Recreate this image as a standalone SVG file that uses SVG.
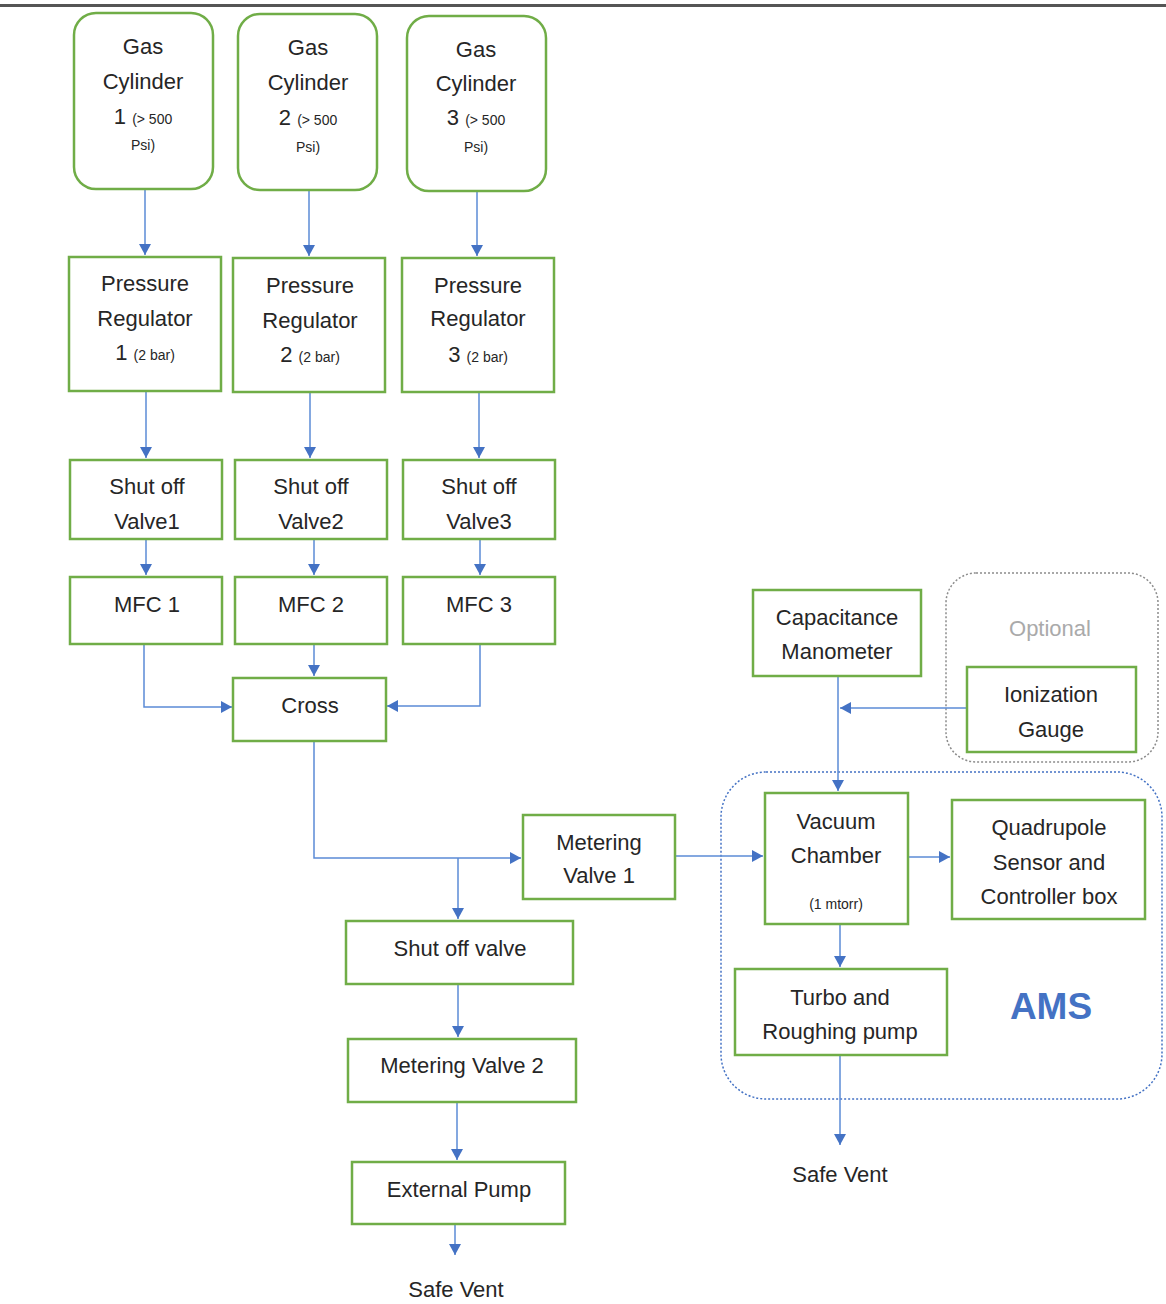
<svg xmlns="http://www.w3.org/2000/svg" width="1166" height="1304" viewBox="0 0 1166 1304">
  <defs>
    <marker id="arrow" markerUnits="userSpaceOnUse" markerWidth="12" markerHeight="12" refX="11" refY="6" orient="auto">
      <path d="M0,0 L11,6 L0,12 z" fill="#4472C4"/>
    </marker>
    <style>
      .box { fill: #ffffff; stroke: #70AD47; stroke-width: 2.5; }
      .lbl { font-family: "Liberation Sans", Arial, sans-serif; font-size: 22px; fill: #262626; text-anchor: middle; }
      .sm { font-size: 14px; }
      .wire { fill: none; stroke: #5B8BD6; stroke-width: 1.5; }
      .arr { marker-end: url(#arrow); }
    </style>
  </defs>

  <rect width="1166" height="1304" fill="#ffffff"/>
  <!-- header rule -->
  <rect x="0" y="4" width="1166" height="3" fill="#555555"/>

  <!-- group frames -->
  <g id="optional-group">
    <rect x="946" y="573" width="212" height="189" rx="30" fill="none" stroke="#8c8c8c" stroke-width="1.5" stroke-dasharray="2 2"/>
    <text class="lbl" x="1050" y="636" style="fill:#aaaaaa">Optional</text>
  </g>
  <g id="ams-group">
    <rect x="721" y="772" width="441" height="327" rx="45" fill="none" stroke="#4472C4" stroke-width="1.5" stroke-dasharray="2 2"/>
    <text x="1051" y="1019" font-family="Liberation Sans, Arial, sans-serif" font-size="37" font-weight="bold" fill="#4472C4" text-anchor="middle">AMS</text>
  </g>

  <!-- connectors -->
  <g id="connectors">
    <path class="wire arr" d="M145,189 V255"/>
    <path class="wire arr" d="M309,190 V256"/>
    <path class="wire arr" d="M477,191 V256"/>
    <path class="wire arr" d="M146,391 V458"/>
    <path class="wire arr" d="M310,392 V458"/>
    <path class="wire arr" d="M479,392 V458"/>
    <path class="wire arr" d="M146,539 V575"/>
    <path class="wire arr" d="M314,539 V575"/>
    <path class="wire arr" d="M480,539 V575"/>
    <path class="wire arr" d="M144,644 V707 H232"/>
    <path class="wire arr" d="M314,644 V676"/>
    <path class="wire arr" d="M480,644 V706 H387"/>
    <path class="wire arr" d="M314,741 V858 H521"/>
    <path class="wire arr" d="M458,858 V919"/>
    <path class="wire arr" d="M675,856 H763"/>
    <path class="wire arr" d="M458,984 V1037"/>
    <path class="wire arr" d="M457,1102 V1160"/>
    <path class="wire arr" d="M455,1224 V1255"/>
    <path class="wire arr" d="M838,676 V791"/>
    <path class="wire arr" d="M967,708 H840"/>
    <path class="wire arr" d="M908,857 H950"/>
    <path class="wire arr" d="M840,924 V967"/>
    <path class="wire arr" d="M840,1055 V1145"/>
  </g>

  <!-- gas supply line 1 -->
  <g id="cyl1">
    <rect class="box" x="74" y="13" width="139" height="176" rx="22"/>
    <text class="lbl" x="143" y="54">Gas</text>
    <text class="lbl" x="143" y="89">Cylinder</text>
    <text class="lbl" x="143" y="124">1 <tspan class="sm">(&gt; 500</tspan></text>
    <text class="lbl sm" x="143" y="150">Psi)</text>
  </g>
  <g id="cyl2">
    <rect class="box" x="238" y="14" width="139" height="176" rx="22"/>
    <text class="lbl" x="308" y="55">Gas</text>
    <text class="lbl" x="308" y="90">Cylinder</text>
    <text class="lbl" x="308" y="125">2 <tspan class="sm">(&gt; 500</tspan></text>
    <text class="lbl sm" x="308" y="152">Psi)</text>
  </g>
  <g id="cyl3">
    <rect class="box" x="407" y="16" width="139" height="175" rx="22"/>
    <text class="lbl" x="476" y="57">Gas</text>
    <text class="lbl" x="476" y="91">Cylinder</text>
    <text class="lbl" x="476" y="125">3 <tspan class="sm">(&gt; 500</tspan></text>
    <text class="lbl sm" x="476" y="152">Psi)</text>
  </g>

  <g id="reg1">
    <rect class="box" x="69" y="257" width="152" height="134"/>
    <text class="lbl" x="145" y="291">Pressure</text>
    <text class="lbl" x="145" y="326">Regulator</text>
    <text class="lbl" x="145" y="360">1 <tspan class="sm">(2 bar)</tspan></text>
  </g>
  <g id="reg2">
    <rect class="box" x="233" y="258" width="152" height="134"/>
    <text class="lbl" x="310" y="293">Pressure</text>
    <text class="lbl" x="310" y="328">Regulator</text>
    <text class="lbl" x="310" y="362">2 <tspan class="sm">(2 bar)</tspan></text>
  </g>
  <g id="reg3">
    <rect class="box" x="402" y="258" width="152" height="134"/>
    <text class="lbl" x="478" y="293">Pressure</text>
    <text class="lbl" x="478" y="326">Regulator</text>
    <text class="lbl" x="478" y="362">3 <tspan class="sm">(2 bar)</tspan></text>
  </g>

  <g id="valve1">
    <rect class="box" x="70" y="460" width="152" height="79"/>
    <text class="lbl" x="147" y="494">Shut off</text>
    <text class="lbl" x="147" y="529">Valve1</text>
  </g>
  <g id="valve2">
    <rect class="box" x="235" y="460" width="152" height="79"/>
    <text class="lbl" x="311" y="494">Shut off</text>
    <text class="lbl" x="311" y="529">Valve2</text>
  </g>
  <g id="valve3">
    <rect class="box" x="403" y="460" width="152" height="79"/>
    <text class="lbl" x="479" y="494">Shut off</text>
    <text class="lbl" x="479" y="529">Valve3</text>
  </g>

  <g id="mfc1">
    <rect class="box" x="70" y="577" width="152" height="67"/>
    <text class="lbl" x="147" y="612">MFC 1</text>
  </g>
  <g id="mfc2">
    <rect class="box" x="235" y="577" width="152" height="67"/>
    <text class="lbl" x="311" y="612">MFC 2</text>
  </g>
  <g id="mfc3">
    <rect class="box" x="403" y="577" width="152" height="67"/>
    <text class="lbl" x="479" y="612">MFC 3</text>
  </g>

  <g id="cross">
    <rect class="box" x="233" y="678" width="153" height="63"/>
    <text class="lbl" x="310" y="713">Cross</text>
  </g>

  <g id="metering-valve-1">
    <rect class="box" x="523" y="815" width="152" height="84"/>
    <text class="lbl" x="599" y="850">Metering</text>
    <text class="lbl" x="599" y="883">Valve 1</text>
  </g>

  <!-- bypass / exhaust branch -->
  <g id="shutoff-valve">
    <rect class="box" x="346" y="921" width="227" height="63"/>
    <text class="lbl" x="460" y="956">Shut off valve</text>
  </g>
  <g id="metering-valve-2">
    <rect class="box" x="348" y="1039" width="228" height="63"/>
    <text class="lbl" x="462" y="1073">Metering Valve 2</text>
  </g>
  <g id="external-pump">
    <rect class="box" x="352" y="1162" width="213" height="62"/>
    <text class="lbl" x="459" y="1197">External Pump</text>
  </g>
  <g id="safe-vent-1">
    <text class="lbl" x="456" y="1297">Safe Vent</text>
  </g>

  <!-- gauges -->
  <g id="capacitance-manometer">
    <rect class="box" x="753" y="590" width="168" height="86"/>
    <text class="lbl" x="837" y="625">Capacitance</text>
    <text class="lbl" x="837" y="659">Manometer</text>
  </g>
  <g id="ionization-gauge">
    <rect class="box" x="967" y="667" width="169" height="85"/>
    <text class="lbl" x="1051" y="702">Ionization</text>
    <text class="lbl" x="1051" y="737">Gauge</text>
  </g>

  <!-- analyser -->
  <g id="vacuum-chamber">
    <rect class="box" x="765" y="793" width="143" height="131"/>
    <text class="lbl" x="836" y="829">Vacuum</text>
    <text class="lbl" x="836" y="863">Chamber</text>
    <text class="lbl sm" x="836" y="909">(1 mtorr)</text>
  </g>
  <g id="quadrupole">
    <rect class="box" x="952" y="800" width="193" height="119"/>
    <text class="lbl" x="1049" y="835">Quadrupole</text>
    <text class="lbl" x="1049" y="870">Sensor and</text>
    <text class="lbl" x="1049" y="904">Controller box</text>
  </g>
  <g id="turbo-pump">
    <rect class="box" x="735" y="969" width="212" height="86"/>
    <text class="lbl" x="840" y="1005">Turbo and</text>
    <text class="lbl" x="840" y="1039">Roughing pump</text>
  </g>
  <g id="safe-vent-2">
    <text class="lbl" x="840" y="1182">Safe Vent</text>
  </g>
</svg>
